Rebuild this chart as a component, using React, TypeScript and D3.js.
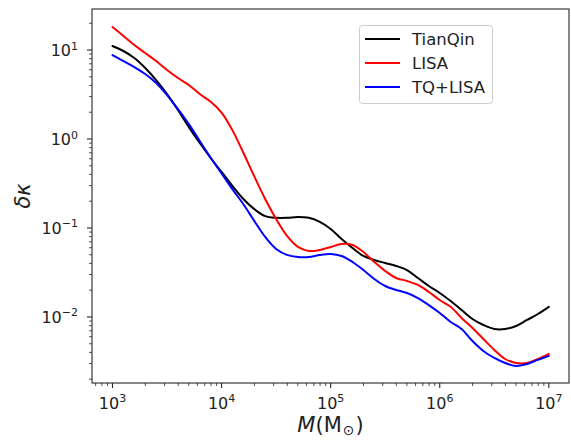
import React from 'react';
import * as d3 from 'd3';

// log10 of mass grid (M in solar masses)
const logMass = [
  3.0, 3.1, 3.2, 3.3, 3.4, 3.5, 3.6, 3.7, 3.8, 3.9,
  4.0, 4.1, 4.2, 4.3, 4.4, 4.5, 4.6, 4.7, 4.8, 4.9,
  5.0, 5.1, 5.2, 5.3, 5.4, 5.5, 5.6, 5.7, 5.8, 5.9,
  6.0, 6.1, 6.2, 6.3, 6.4, 6.5, 6.6, 6.7, 6.8, 6.9, 7.0,
];

const tianqin = [
  11.09, 9.75, 8.13, 6.28, 4.6, 3.2, 2.12, 1.36, 0.902, 0.612,
  0.426, 0.296, 0.212, 0.163, 0.136, 0.13, 0.13, 0.133, 0.13, 0.117,
  0.0975, 0.0752, 0.0596, 0.0485, 0.0437, 0.0404, 0.0374, 0.0337, 0.0274, 0.0223,
  0.0186, 0.0151, 0.012, 0.0095, 0.00813, 0.00733, 0.00733, 0.00792, 0.00925, 0.0108, 0.013,
];

const lisa = [
  18.1, 14.4, 11.4, 9.25, 7.52, 5.96, 4.85, 4.04, 3.2, 2.62,
  1.98, 1.25, 0.7, 0.38, 0.212, 0.126, 0.0813, 0.0612, 0.0552, 0.0566,
  0.0612, 0.0661, 0.0644, 0.0537, 0.0415, 0.0329, 0.0274, 0.0254, 0.0229, 0.0191,
  0.0155, 0.013, 0.00975, 0.00752, 0.00566, 0.00426, 0.00337, 0.00304, 0.00304, 0.00337, 0.00384,
];

const tqLisa = [
  8.79, 7.52, 6.44, 5.37, 4.26, 3.12, 2.17, 1.47, 0.95, 0.615,
  0.41, 0.272, 0.185, 0.12, 0.0792, 0.0581, 0.0498, 0.0472, 0.0472, 0.0498,
  0.0511, 0.0485, 0.0415, 0.0337, 0.0267, 0.0223, 0.0201, 0.0186, 0.0163, 0.0136,
  0.0111, 0.00879, 0.00733, 0.00537, 0.00415, 0.00346, 0.00304, 0.00281, 0.00296, 0.00329, 0.00365,
];

const seriesNames = ['TianQin', 'LISA', 'TQ+LISA'];
const seriesColors = ['#000000', '#ff0000', '#0000ff'];
const seriesData = [tianqin, lisa, tqLisa];

const xTickExps = [3, 4, 5, 6, 7];
const yTickExps = [-2, -1, 0, 1];

const W = 571;
const H = 441;
const L = 92;
const R = 569;
const T = 9;
const B = 383;

export default function App() {
  const x = d3.scaleLog().domain([Math.pow(10, 2.812), Math.pow(10, 7.185)]).range([L, R]);
  const y = d3.scaleLog().domain([Math.pow(10, -2.742), Math.pow(10, 1.461)]).range([B, T]);

  const line = d3
    .line<[number, number]>()
    .x((d) => x(d[0]))
    .y((d) => y(d[1]))
    .curve(d3.curveCatmullRom.alpha(0.5));

  const xMinor: number[] = [];
  for (let e = 2; e <= 7; e++) {
    for (let k = 2; k <= 9; k++) {
      const v = k * Math.pow(10, e);
      const [d0, d1] = x.domain();
      if (v >= d0 && v <= d1) xMinor.push(v);
    }
  }
  const yMinor: number[] = [];
  for (let e = -3; e <= 1; e++) {
    for (let k = 2; k <= 9; k++) {
      const v = k * Math.pow(10, e);
      const [d0, d1] = y.domain();
      if (v >= d0 && v <= d1) yMinor.push(v);
    }
  }

  const font = 'DejaVu Sans';
  const axisColor = '#262626';

  return (
    <svg
      width={W}
      height={H}
      style={{ position: 'absolute', left: 0, top: 0, background: '#fff' }}
      fontFamily={font}
    >
      <rect x={0} y={0} width={W} height={H} fill="#fff" />
      {seriesData.map((s, i) => (
        <path
          key={seriesNames[i]}
          d={line(logMass.map((lm, j) => [Math.pow(10, lm), s[j]] as [number, number])) || ''}
          fill="none"
          stroke={seriesColors[i]}
          strokeWidth={2}
          strokeLinejoin="round"
          strokeLinecap="round"
        />
      ))}
      {/* axes box */}
      <rect x={L} y={T} width={R - L} height={B - T} fill="none" stroke={axisColor} strokeWidth={1.1} />
      {/* x ticks */}
      {xTickExps.map((e) => {
        const px = x(Math.pow(10, e));
        return (
          <g key={'xt' + e}>
            <line x1={px} x2={px} y1={B} y2={B + 5} stroke={axisColor} strokeWidth={1.1} />
            <text x={px} y={408.5} textAnchor="middle" fontSize={16} fill="#222">
              10<tspan dy={-6.5} fontSize={11}>{e < 0 ? '\u2212' + Math.abs(e) : e}</tspan>
            </text>
          </g>
        );
      })}
      {xMinor.map((v, i) => (
        <line key={'xm' + i} x1={x(v)} x2={x(v)} y1={B} y2={B + 3} stroke={axisColor} strokeWidth={0.8} />
      ))}
      {/* y ticks */}
      {yTickExps.map((e) => {
        const py = y(Math.pow(10, e));
        return (
          <g key={'yt' + e}>
            <line x1={L - 5} x2={L} y1={py} y2={py} stroke={axisColor} strokeWidth={1.1} />
            <text x={78} y={py + 6} textAnchor="end" fontSize={16} fill="#222">
              10<tspan dy={-6.5} fontSize={11}>{e < 0 ? '\u2212' + Math.abs(e) : e}</tspan>
            </text>
          </g>
        );
      })}
      {yMinor.map((v, i) => (
        <line key={'ym' + i} x1={L - 3} x2={L} y1={y(v)} y2={y(v)} stroke={axisColor} strokeWidth={0.8} />
      ))}
      {/* axis labels */}
      <text
        transform={`translate(30, ${(T + B) / 2}) rotate(-90)`}
        textAnchor="middle"
        fontSize={21}
        fontStyle="italic"
        fill="#222"
      >
        δκ
      </text>
      <text x={(L + R) / 2} y={432} textAnchor="middle" fontSize={21} fill="#222">
        <tspan fontStyle="italic">M</tspan>
        <tspan>(M</tspan>
        <tspan dx={1} dy={3} fontSize={14}>⊙</tspan>
        <tspan dx={1} dy={-3}>)</tspan>
      </text>
      {/* legend */}
      <g>
        <rect x={359.5} y={25.5} width={133} height={78} rx={3} fill="#fff" fillOpacity={0.8} stroke="#cccccc" strokeWidth={1} />
        {seriesNames.map((n, i) => {
          const ly = 39 + i * 24;
          return (
            <g key={'lg' + n}>
              <line x1={365} x2={400} y1={ly} y2={ly} stroke={seriesColors[i]} strokeWidth={2} />
              <text x={412} y={ly + 6} fontSize={16.5} fill="#222">
                {n}
              </text>
            </g>
          );
        })}
      </g>
    </svg>
  );
}
